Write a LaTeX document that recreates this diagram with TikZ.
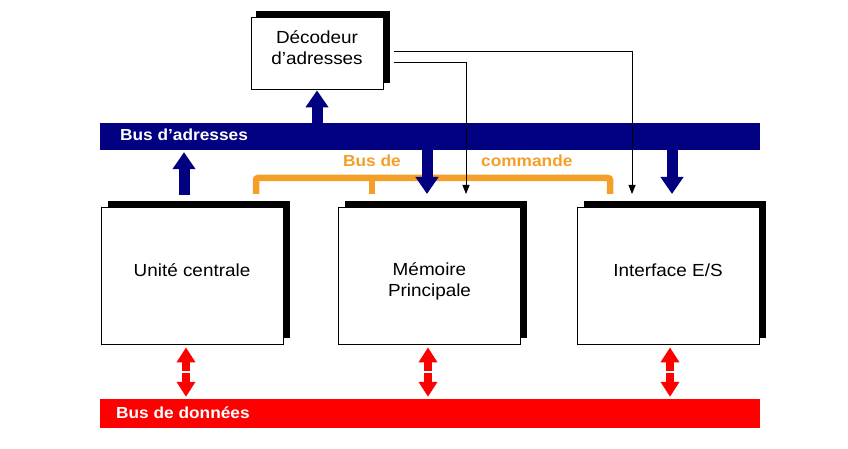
\documentclass[tikz,border=0pt]{standalone}
\usepackage{fontspec}
\setmainfont{Liberation Sans}[FakeStretch=1.08]
\usetikzlibrary{arrows.meta,shadows,calc}
\definecolor{busnavy}{RGB}{0,0,128}
\definecolor{busred}{RGB}{255,0,0}
\definecolor{cmdorange}{RGB}{245,158,40}
\begin{document}
\begin{tikzpicture}[x=1pt,y=-1pt,
  unitbox/.style={draw=black,line width=0.8pt,fill=white,inner sep=0pt,
    minimum width=182pt,minimum height=137pt,
    general shadow={fill=black,shadow xshift=6.5pt,shadow yshift=6pt}},
  decbox/.style={unitbox,minimum width=132pt,minimum height=72pt,
    general shadow={fill=black,shadow xshift=5pt,shadow yshift=5.5pt}},
  busbar/.style={inner sep=0pt,minimum width=660pt},
  boxtext/.style={font=\fontsize{17.5}{21}\selectfont,align=center,inner sep=0pt},
  buslabel/.style={font=\fontsize{16}{19}\selectfont\bfseries,inner sep=0pt,anchor=base west},
  navyarrow/.style={draw=busnavy,line width=11pt,-{Triangle[width=22pt,length=17pt]}},
  redarrow/.style={draw=busred,line width=8pt,-{Triangle[width=18pt,length=15pt]}},
  thinarrow/.style={draw=black,line width=0.8pt,-{Triangle[width=7pt,length=9pt]}},
  cmdline/.style={draw=cmdorange,line width=6.5pt}]
\useasboundingbox (0,0) rectangle (848,449);

% boxes
\node[decbox] (deco) at (317,53) {};
\node[unitbox] (uc) at (192,275.5) {};
\node[unitbox] (mp) at (429.5,275.5) {};
\node[unitbox] (io) at (668,275.5) {};

% buses
\node[busbar,fill=busnavy,minimum height=27pt] (busA) at (430,136.5) {};
\node[busbar,fill=busred,minimum height=29pt] (busD) at (430,413.5) {};

% texts
\node[boxtext] (decot) at (317,48) {Décodeur\\d’adresses};
\node[boxtext,anchor=base] (uct) at (192,276) {Unité centrale};
\node[boxtext] (mpt) at (429.5,281) {Mémoire\\Principale};
\node[boxtext,anchor=base] (iot) at (668,276) {Interface E/S};
\node[buslabel,text=white] (busAl) at (120,141) {Bus d’adresses};
\node[buslabel,text=white] (busDl) at (116,418) {Bus de données};
\node[buslabel,text=cmdorange] (cmdl1) at (343,167) {Bus de};
\node[buslabel,text=cmdorange] (cmdl2) at (481,167) {commande};

% command bus bracket
\coordinate (c1) at (256,194);
\coordinate (c2) at (372,194);
\coordinate (c3) at (610,194);
\draw[cmdline,rounded corners=2pt] (c1) |- (c3 |- 0,178) -- (c3);
\draw[cmdline] (c2) -- (c2 |- 0,178);

% address bus arrows
\draw[navyarrow,shorten >=1pt] (busA.north -| deco.south) -- (deco.south);
\coordinate (ua) at (184,195);
\draw[navyarrow,shorten >=2pt] (ua) -- (ua |- busA.south);
\coordinate (ma) at (427,194);
\draw[navyarrow] (ma |- busA.south) -- (ma);
\coordinate (ia) at (672,194);
\draw[navyarrow] (ia |- busA.south) -- (ia);

% decoder select lines
\coordinate (d1) at (394,51);
\coordinate (t1) at (632,194);
\draw[thinarrow] (d1) -| (t1);
\coordinate (d2) at (394,62);
\coordinate (t2) at (466,194);
\draw[thinarrow] (d2) -| (t2);

% data bus arrows
\foreach \x/\n/\b in {186/r1/uc,428/r2/mp,670/r3/io}{
  \coordinate (\n) at (\x,372);
  \draw[redarrow,shorten >=3pt] ($(\n)+(0,-0.8)$) -- (\n |- \b.south);
  \draw[redarrow,shorten >=2pt] ($(\n)+(0,0.8)$) -- (\n |- busD.north);
}
\end{tikzpicture}
\end{document}
